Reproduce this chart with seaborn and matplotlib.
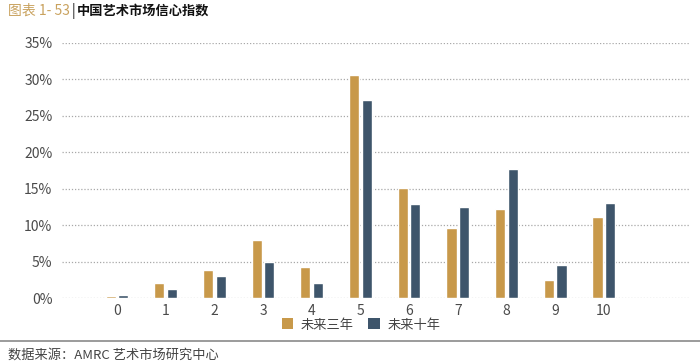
import matplotlib
matplotlib.use("Agg")
import matplotlib.pyplot as plt
import seaborn as sns
import pandas as pd
from matplotlib.ticker import PercentFormatter, MultipleLocator
from matplotlib.patches import Patch
from matplotlib.lines import Line2D

categories = ["0", "1", "2", "3", "4", "5", "6", "7", "8", "9", "10"]
three_year = [0.25, 2.0, 3.9, 8.0, 4.2, 30.6, 15.1, 9.6, 12.2, 2.5, 11.1]
ten_year = [0.4, 1.2, 3.0, 5.0, 2.1, 27.2, 12.9, 12.5, 17.7, 4.5, 13.1]
series_names = ["未来三年", "未来十年"]
colors = ["#C8994A", "#3E556B"]

sns.set_theme(style="white")
plt.rcParams["font.family"] = ["Noto Sans CJK SC", "DejaVu Sans"]

df = pd.DataFrame({
    "score": categories * 2,
    "value": three_year + ten_year,
    "series": [series_names[0]] * len(categories) + [series_names[1]] * len(categories),
})

fig = plt.figure(figsize=(7.0, 3.64), dpi=100)
ax = fig.add_axes([62 / 700, 1 - 298 / 364, (690 - 62) / 700, (298 - 43) / 364])

sns.barplot(data=df, x="score", y="value", hue="series", order=categories,
            hue_order=series_names, palette=colors, width=0.52, gap=0.2,
            saturation=1, ax=ax, legend=False, errorbar=None)

ax.set_xlim(-1.13, 11.77)
ax.set_ylim(0, 35)
ax.yaxis.set_major_locator(MultipleLocator(5))
ax.yaxis.set_major_formatter(PercentFormatter(decimals=0))
ax.set_axisbelow(True)
ax.grid(axis="y", color="#A8A8A8", linestyle=(0, (1, 1.5)), linewidth=0.9)
ax.grid(axis="x", visible=False)
for s in ax.spines.values():
    s.set_visible(False)
ax.set_xlabel("")
ax.set_ylabel("")
ax.tick_params(axis="both", length=0, labelsize=10, colors="#4a4a4a")
ax.tick_params(axis="y", pad=7)
ax.tick_params(axis="x", pad=4)

handles = [Patch(facecolor=c, edgecolor="none") for c in colors]
fig.legend(handles, series_names, loc="center", bbox_to_anchor=(361 / 700, 1 - 325 / 364),
           ncol=2, frameon=False, fontsize=9.5, handlelength=0.9, handleheight=0.9,
           handletextpad=0.55, columnspacing=1.1, labelcolor="#444444")

fig.add_artist(Line2D([0, 1], [1 - 341 / 364, 1 - 341 / 364], color="#8a8a8a",
                      linewidth=1.2, transform=fig.transFigure))

fig.text(8 / 700, 1 - 11 / 364, "图表 1- 53", color="#C9A25E", fontsize=10,
         va="center", ha="left")
fig.text(72 / 700, 1 - 11 / 364, "|", color="#111111", fontsize=10,
         va="center", ha="left")
fig.text(77 / 700, 1 - 11 / 364, "中国艺术市场信心指数", color="#111111", fontsize=9.5,
         va="center", ha="left", fontweight="bold")
fig.text(8 / 700, 1 - 355 / 364, "数据来源：AMRC 艺术市场研究中心", color="#444444",
         fontsize=9.5, va="center", ha="left")

fig.savefig("out.png", dpi=100)
